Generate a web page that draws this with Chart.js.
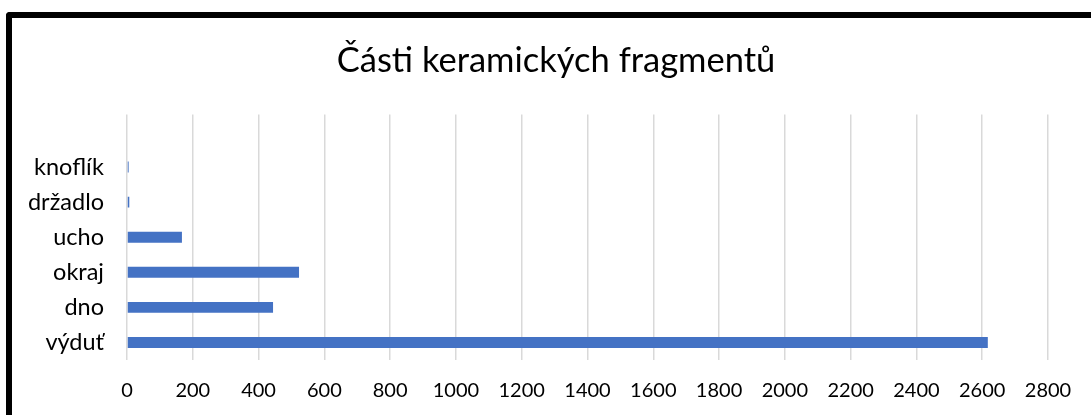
<!DOCTYPE html>
<html>
<head>
<meta charset="utf-8">
<script src="https://cdn.jsdelivr.net/npm/chart.js@4/dist/chart.umd.min.js"></script>
<style>
  html, body { margin: 0; padding: 0; background: #fff; overflow: hidden; }
  #wrap { position: relative; width: 1091px; height: 415px; }
  #frame {
    position: absolute; left: 6px; top: 12px; width: 1200px; height: 500px;
    border-left: 6px solid #000; border-top: 6px solid #000;
    border-top-left-radius: 4px; pointer-events: none;
  }
  canvas { position: absolute; left: 0; top: 0; }
</style>
</head>
<body>
<div id="wrap">
  <canvas id="chart" width="1091" height="415"></canvas>
  <div id="frame"></div>
</div>
<script>
// data (top to bottom; the top slot is empty in the original)
const categories = ['', 'knoflík', 'držadlo', 'ucho', 'okraj', 'dno', 'výduť'];
const counts = [null, 5, 7, 167, 523, 444, 2617];
const chartTitle = 'Části keramických fragmentů';
const xMin = 0;
const xMax = 2800;
const xStep = 200;

const FONT = "Lato, 'Open Sans', sans-serif";

const ctx = document.getElementById('chart').getContext('2d');

new Chart(ctx, {
    type: 'bar',
    data: {
        labels: categories,
        datasets: [{
            label: chartTitle,
            data: counts,
            backgroundColor: '#4472C4',
            borderWidth: 0,
            barPercentage: 0.31,
            categoryPercentage: 1
        }]
    },
    options: {
        indexAxis: 'y',
        responsive: false,
        animation: false,
        devicePixelRatio: 1,
        layout: {
            padding: { left: 21, right: 0, top: 0, bottom: 0 }
        },
        plugins: {
            legend: { display: false },
            tooltip: { enabled: false },
            title: {
                display: true,
                text: chartTitle,
                color: '#000',
                font: { family: FONT, size: 34.5, weight: 'normal' },
                padding: { top: 40, bottom: 33 }
            }
        },
        scales: {
            x: {
                min: xMin,
                max: xMax,
                grid: { color: '#d9d9d9', lineWidth: 1.5, drawTicks: false },
                border: { display: false },
                ticks: {
                    stepSize: xStep,
                    color: '#000',
                    padding: 19,
                    font: { family: FONT, size: 20 },
                    callback: (v) => String(v)
                },
                afterFit: (scale) => { scale.height = 55; }
            },
            y: {
                grid: { display: false, drawTicks: false },
                border: { display: false },
                ticks: {
                    color: '#000',
                    padding: 23,
                    font: { family: FONT, size: 23.5 }
                },
                afterFit: (scale) => { scale.width = 106; }
            },
            // empty right-hand spacer so the title sits where it does in the original
            spacer: {
                type: 'category',
                axis: 'y',
                position: 'right',
                labels: [''],
                grid: { display: false, drawTicks: false },
                border: { display: false },
                ticks: { display: false },
                afterFit: (scale) => { scale.width = 43; }
            }
        }
    }
});
</script>
</body>
</html>
